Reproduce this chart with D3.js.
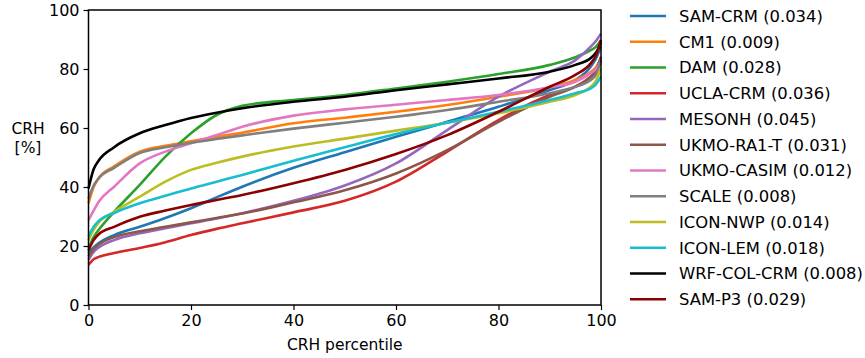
<!DOCTYPE html>
<html>
<head>
<meta charset="utf-8">
<script src="https://cdn.jsdelivr.net/npm/d3@7"></script>
<style>
body { margin: 0; background: #fff; }
text { font-family: "DejaVu Sans", sans-serif; }
</style>
</head>
<body>
<div id="chart"></div>
<script>
'use strict';

// CRH percentiles at which the curves were read
const pct = [0, 1, 2, 5, 10, 15, 20, 25, 30, 40, 50, 60, 70, 80, 90, 95, 98, 99, 100];

const samCrm   = [17.5, 19.5, 21, 23.7, 26.5, 29.5, 32.8, 36.5, 40.1, 46.5, 51.8, 57, 62.1, 67.2, 72.9, 76.3, 80.8, 83.5, 87.6];
const cm1      = [34.5, 40, 43, 47, 52, 54, 55.5, 57, 58.4, 61.6, 63.5, 65.5, 67.8, 70.6, 73.8, 76.3, 79, 80.5, 83.6];
const dam      = [19.3, 23, 25.5, 31.6, 40.7, 50.3, 58.2, 64.4, 67.5, 69.5, 71.2, 73.4, 75.7, 78.3, 81.4, 84, 86.4, 87.5, 89.8];
const uclaCrm  = [13.6, 15.5, 16.3, 17.6, 19.3, 21.3, 23.7, 25.8, 27.7, 31.4, 35.3, 41.8, 52, 62.7, 71.2, 74, 77.4, 79, 83];
const mesonh   = [15.3, 18, 19.5, 22, 24.3, 26, 27.7, 29.3, 31.1, 35.3, 40.5, 48, 59.3, 70.6, 79.1, 83, 87.6, 89.5, 92];
const ukmoRa1t = [16.5, 19, 20.5, 23, 25, 26.5, 28, 29.5, 31, 34.8, 38.9, 44.6, 52.5, 62.1, 70.6, 74, 77.4, 79.5, 84.2];
const ukmoCasim= [28.8, 32, 35, 40.1, 48, 52, 54.8, 57.6, 60.4, 64.2, 66.3, 67.9, 69.5, 71.2, 73.8, 75.7, 78.6, 80, 82.5];
const scale    = [36, 40.5, 43, 46.5, 51.5, 53.5, 55, 56.3, 57.5, 59.8, 61.8, 63.8, 66.1, 68.9, 71.8, 74, 76.3, 78, 83];
const iconNwp  = [22, 25.5, 28, 31.6, 36.7, 41.8, 45.8, 48.2, 50.3, 53.7, 56.4, 59.1, 61.8, 65, 68.9, 71.2, 74, 76, 80.2];
const iconLem  = [23.2, 26.5, 28.5, 31.2, 34.5, 37, 39.5, 41.8, 44.1, 48.9, 53.5, 58, 61.8, 65.5, 69.5, 71.8, 73.4, 74.8, 77.4];
const wrfCol   = [39.5, 46, 49, 53.5, 58.2, 61, 63.4, 65.2, 66.7, 68.9, 70.6, 72.8, 74.8, 76.8, 79.1, 81.4, 83.7, 85.5, 89];
const samP3    = [18.5, 22, 24, 26.5, 29.9, 32, 33.9, 35.6, 37.3, 41.3, 45.8, 51.2, 57.6, 65.5, 74, 78, 81.9, 84.5, 89.8];

const names  = ["SAM-CRM", "CM1", "DAM", "UCLA-CRM", "MESONH", "UKMO-RA1-T", "UKMO-CASIM",
                "SCALE", "ICON-NWP", "ICON-LEM", "WRF-COL-CRM", "SAM-P3"];
const scores = ["0.034", "0.009", "0.028", "0.036", "0.045", "0.031", "0.012",
                "0.008", "0.014", "0.018", "0.008", "0.029"];
const colors = ["#1f77b4", "#ff7f0e", "#2ca02c", "#d62728", "#9467bd", "#8c564b", "#e377c2",
                "#7f7f7f", "#bcbd22", "#17becf", "#000000", "#8b0000"];
const series = [samCrm, cm1, dam, uclaCrm, mesonh, ukmoRa1t, ukmoCasim,
                scale, iconNwp, iconLem, wrfCol, samP3];

const xTicks = [0, 20, 40, 60, 80, 100];
const yTicks = [0, 20, 40, 60, 80, 100];

const width = 865, height = 358;
const margin = { top: 10, right: 264, bottom: 53, left: 88.5 };

const svg = d3.select("#chart").append("svg")
	.attr("width", width)
	.attr("height", height);

const x = d3.scaleLinear()
	.domain([0, 100])
	.range([margin.left, width - margin.right]);

const y = d3.scaleLinear()
	.domain([0, 100])
	.range([height - margin.bottom, margin.top]);

const line = d3.line()
	.x((d, i) => x(pct[i]))
	.y(d => y(d))
	.curve(d3.curveMonotoneX);

svg.append("g")
	.attr("class", "lines")
	.selectAll("path")
	.data(series)
	.join("path")
		.attr("fill", "none")
		.attr("stroke", (d, i) => colors[i])
		.attr("stroke-width", 2.6)
		.attr("d", line);

// axes
const xAxis = g => g
	.attr("transform", `translate(0,${height - margin.bottom})`)
	.call(d3.axisBottom(x).tickValues(xTicks).tickSize(5).tickPadding(5))
	.call(g => g.select(".domain").remove());

const yAxis = g => g
	.attr("transform", `translate(${margin.left},0)`)
	.call(d3.axisLeft(y).tickValues(yTicks).tickSize(5).tickPadding(4))
	.call(g => g.select(".domain").remove());

svg.append("g").call(xAxis);
svg.append("g").call(yAxis);

svg.selectAll(".tick line").attr("stroke", "#000").attr("stroke-width", 1.2);
svg.selectAll(".tick text")
	.attr("fill", "#000")
	.style("font-size", "16px")
	.style("font-family", "'DejaVu Sans', sans-serif");

// frame
svg.append("rect")
	.attr("x", x(0))
	.attr("y", y(100))
	.attr("width", x(100) - x(0))
	.attr("height", y(0) - y(100))
	.attr("fill", "none")
	.attr("stroke", "#000")
	.attr("stroke-width", 1.5);

// axis labels
svg.append("text")
	.attr("x", (x(0) + x(100)) / 2)
	.attr("y", height - 8)
	.attr("text-anchor", "middle")
	.style("font-size", "15.5px")
	.text("CRH percentile");

const yl = svg.append("text")
	.attr("text-anchor", "middle")
	.style("font-size", "15.5px");
yl.append("tspan").attr("x", 28).attr("y", 134).text("CRH");
yl.append("tspan").attr("x", 28).attr("y", 153).text("[%]");

// legend
const legend = svg.append("g")
	.attr("class", "legend")
	.selectAll("g")
	.data(names)
	.join("g")
		.attr("transform", (d, i) => `translate(630,${16 + i * 25.75})`);

legend.append("line")
	.attr("x1", 0).attr("x2", 36)
	.attr("y1", 0).attr("y2", 0)
	.attr("stroke", (d, i) => colors[i])
	.attr("stroke-width", 2.6);

legend.append("text")
	.attr("x", 49)
	.attr("y", 0)
	.attr("dy", "0.35em")
	.style("font-size", "16.4px")
	.text((d, i) => `${d} (${scores[i]})`);
</script>
</body>
</html>
